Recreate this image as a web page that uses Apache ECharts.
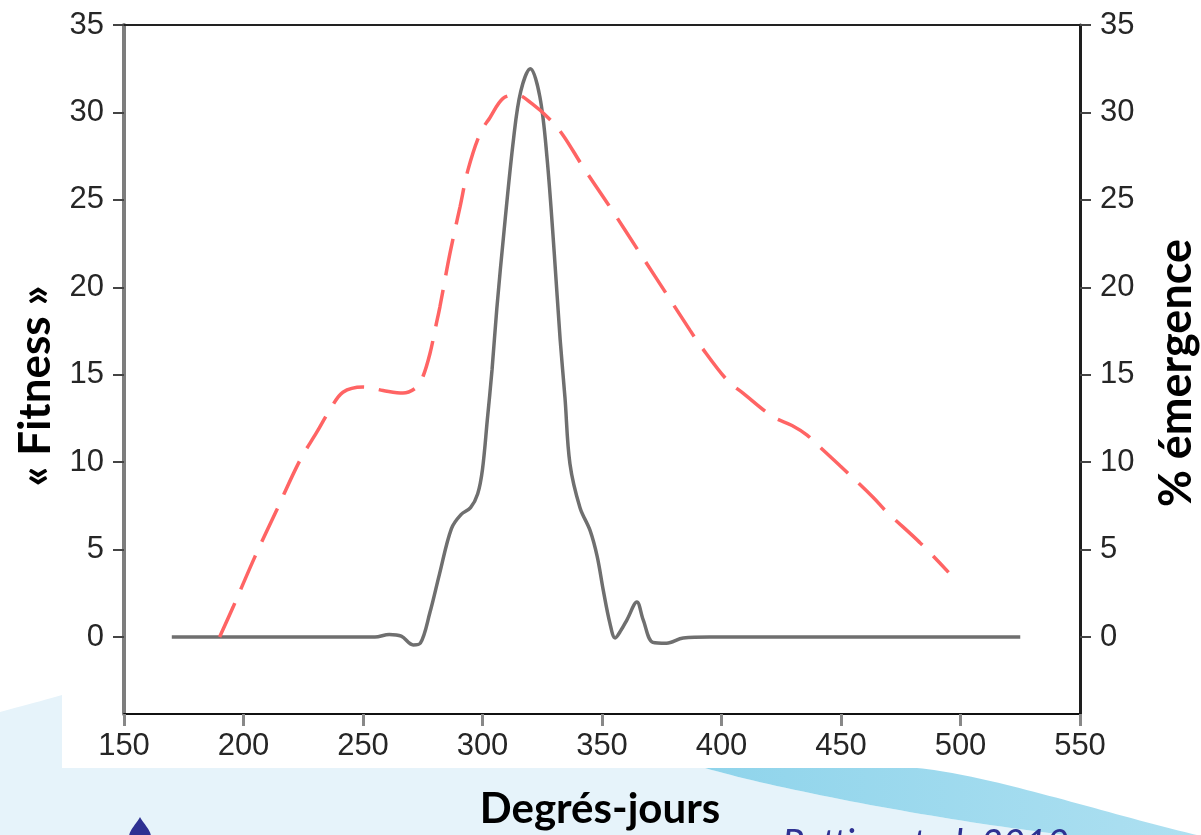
<!DOCTYPE html>
<html>
<head>
<meta charset="utf-8">
<script src="https://cdn.jsdelivr.net/npm/echarts@6/dist/echarts.min.js"></script>
<style>
html,body{margin:0;padding:0;background:#ffffff;}
#c{width:1201px;height:835px;}
</style>
</head>
<body>
<div id="c"></div>
<script>
// ---- data ----
const xTickLabels = [150, 200, 250, 300, 350, 400, 450, 500, 550];
const yTickLabels = [0, 5, 10, 15, 20, 25, 30, 35];

const xTitle = 'Degrés-jours';
const yLeftTitle = '« Fitness »';
const yRightTitle = '% émergence';
const citation = 'Pottier et al. 2010';

// Fitness (black solid line, left axis)
const fitnessX = [170, 200, 240, 255, 261, 266, 271, 274, 278, 282, 287, 291, 295, 298, 300, 302, 304, 306, 309, 313, 316, 320, 324, 327, 330, 332.5, 334.5, 336.6, 340.8, 345, 348, 350.5, 353.3, 355.5, 358, 360.5, 364.6, 367.2, 371.3, 377, 384, 395, 450, 525];
const fitnessY = [0, 0, 0, 0, 0.15, 0.05, -0.45, -0.35, 1.4, 3.6, 6.2, 7.0, 7.4, 8.2, 9.6, 12.4, 15.3, 18.8, 23.2, 28.5, 31.2, 32.5, 30.9, 27.4, 22.0, 17.0, 13.7, 9.9, 7.4, 6.1, 4.6, 2.7, 0.8, -0.05, 0.4, 1.0, 2.0, 1.0, -0.3, -0.35, -0.05, 0, 0, 0];

// % emergence (red dashed line, right axis)
const emergX = [190, 195.6, 204.8, 214, 223.6, 230.6, 236.2, 241.6, 250, 258.4, 266.7, 272.6, 275.1, 278, 280.5, 282.2, 286.4, 290.6, 293.9, 299, 303.1, 308.6, 314.4, 320.7, 328.2, 333.7, 342, 353.3, 365.9, 378.5, 386.8, 391, 402.3, 409, 421.5, 429.5, 435.8, 442.5, 449.6, 463.4, 469.2, 483, 495];
const emergY = [0, 1.7, 4.6, 7.3, 10.1, 11.7, 13.0, 14.0, 14.3, 14.1, 13.95, 14.3, 14.9, 16.2, 17.8, 18.9, 21.95, 24.6, 26.7, 28.8, 29.7, 30.8, 31.0, 30.5, 29.6, 28.7, 26.9, 24.6, 21.95, 19.3, 17.55, 16.7, 14.7, 13.95, 12.6, 12.1, 11.55, 10.7, 9.8, 8.0, 7.15, 5.4, 3.7];

const fitnessData = fitnessX.map((x, i) => [x, fitnessY[i]]);
const emergData = emergX.map((x, i) => [x, emergY[i]]);

// decorative background helpers (cubic bezier sampling)
function bez(p0, p1, p2, p3, n) {
  const pts = [];
  for (let i = 0; i <= n; i++) {
    const t = i / n, u = 1 - t;
    pts.push([
      u*u*u*p0[0] + 3*u*u*t*p1[0] + 3*u*t*t*p2[0] + t*t*t*p3[0],
      u*u*u*p0[1] + 3*u*u*t*p1[1] + 3*u*t*t*p2[1] + t*t*t*p3[1]
    ]);
  }
  return pts;
}
const lowerWave = bez([705, 768], [780, 790], [950, 822], [1067, 835], 40);
const upperWave = bez([917, 768], [990, 775], [1100, 812], [1201, 836], 40);
const leftSwoosh = bez([0, 712], [25, 705], [45, 700], [62, 695], 10);

const lightBluePts = leftSwoosh.concat([[62, 768]]).concat(lowerWave).concat([[0, 835]]);
const cyanPts = [[705, 768]].concat(upperWave).concat([[1201, 835]]).concat(lowerWave.slice().reverse());
const dropPts = bez([140, 817], [137, 823], [130, 829], [129, 836], 12)
  .concat(bez([151, 836], [150, 829], [143, 823], [140, 817], 12));

const chart = echarts.init(document.getElementById('c'), null, {renderer: 'canvas'});

const labelFont = {fontFamily: 'Liberation Sans, Arial, sans-serif', fontSize: 31, color: '#262626'};
const titleFont = 'Lato, "Open Sans", sans-serif';

function yAxisCfg(pos) {
  return {
    type: 'value',
    position: pos,
    min: -4.4,
    max: 35,
    axisLine: {show: true, onZero: false, lineStyle: {color: pos === 'left' ? '#7d7d7d' : '#1e1e1e', width: pos === 'left' ? 4 : 3}},
    axisTick: {show: true, inside: false, length: 11, customValues: yTickLabels, lineStyle: {color: '#444', width: 2}},
    axisLabel: Object.assign({show: true, margin: 20, customValues: yTickLabels}, labelFont),
    splitLine: {show: false}
  };
}

const option = {
  animation: false,
  backgroundColor: 'transparent',
  grid: {left: 124, right: 121, top: 25, bottom: 121, containLabel: false},
  xAxis: [
    {
      type: 'value', position: 'bottom', min: 150, max: 550, interval: 50,
      axisLine: {show: true, onZero: false, lineStyle: {color: '#111', width: 2}},
      axisTick: {show: true, length: 12, lineStyle: {color: '#888', width: 3}},
      axisLabel: Object.assign({show: true, margin: 17}, labelFont),
      splitLine: {show: false}
    },
    {
      type: 'value', position: 'top', min: 150, max: 550,
      axisLine: {show: true, onZero: false, lineStyle: {color: '#222', width: 2}},
      axisTick: {show: false}, axisLabel: {show: false}, splitLine: {show: false}
    }
  ],
  yAxis: [yAxisCfg('left'), yAxisCfg('right')],
  series: [
    {
      name: 'Fitness', type: 'line', xAxisIndex: 0, yAxisIndex: 0,
      data: fitnessData, showSymbol: false, smooth: 0.35,
      lineStyle: {color: '#6f6f6f', width: 3.5}, z: 3
    },
    {
      name: 'Émergence', type: 'line', xAxisIndex: 0, yAxisIndex: 1,
      data: emergData, showSymbol: false, smooth: 0.35,
      lineStyle: {color: '#ff6464', width: 3.5, type: [37, 15]}, z: 4
    }
  ],
  graphic: [
    {type: 'polygon', z: -20, shape: {points: lightBluePts}, style: {fill: '#e6f3fa'}},
    {type: 'polygon', z: -19, shape: {points: cyanPts},
     style: {fill: {type: 'linear', x: 0, y: 0, x2: 1, y2: 0, colorStops: [{offset: 0, color: '#8fd4eb'}, {offset: 1, color: '#aee0f1'}]}}},
    {type: 'rect', z: -18, shape: {x: 62, y: 0, width: 1139, height: 768}, style: {fill: '#ffffff'}},
    {type: 'polygon', z: -17, shape: {points: dropPts}, style: {fill: '#2e3192'}},
    {type: 'text', z: 10, x: 600, y: 809,
     style: {text: xTitle, font: 'bold 42px ' + titleFont, fill: '#000', align: 'center', verticalAlign: 'middle'}},
    {type: 'text', z: 10, x: 36, y: 386, rotation: Math.PI / 2,
     style: {text: yLeftTitle, font: 'bold 44px ' + titleFont, fill: '#000', align: 'center', verticalAlign: 'middle'}},
    {type: 'text', z: 10, x: 1176, y: 373, rotation: Math.PI / 2,
     style: {text: yRightTitle, font: 'bold 45px ' + titleFont, fill: '#000', align: 'center', verticalAlign: 'middle'}},
    {type: 'text', z: 10, x: 782, y: 826,
     style: {text: citation, font: 'italic 38px ' + titleFont, fill: '#2e3192', align: 'left', verticalAlign: 'top'}}
  ]
};
chart.setOption(option);
</script>
</body>
</html>
